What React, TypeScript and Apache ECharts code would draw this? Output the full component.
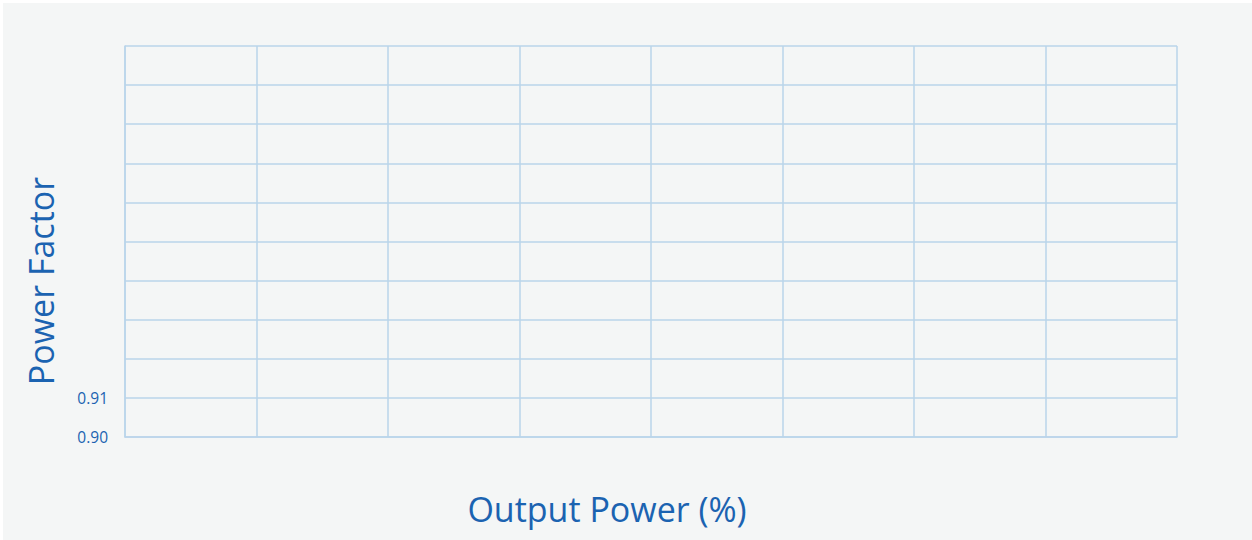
import React, { useEffect, useRef } from "react";
import * as echarts from "echarts";

const xTicks = [0, 12.5, 25, 37.5, 50, 62.5, 75, 87.5, 100];
const yTicks = [0.9, 0.91, 0.92, 0.93, 0.94, 0.95, 0.96, 0.97, 0.98, 0.99, 1.0];
const yShownLabels = ["0.90", "0.91"];
const seriesValues: [number, number][] = [];
const xTitle = "Output Power (%)";
const yTitle = "Power Factor";

const TEXT = "#1b63b1";
const GRID = "#bad4ea";

export default function App() {
  const ref = useRef<HTMLDivElement>(null);
  useEffect(() => {
    document.body.style.margin = "0";
    const chart = echarts.init(ref.current!, null, { renderer: "svg" });
    chart.setOption({
      animation: false,
      backgroundColor: "#f4f6f6",
      textStyle: { fontFamily: "Open Sans" },
      grid: { left: 122, top: 43, width: 1052, height: 391, containLabel: false },
      xAxis: {
        type: "value",
        min: xTicks[0],
        max: xTicks[xTicks.length - 1],
        interval: xTicks[1] - xTicks[0],
        axisLine: { show: true, lineStyle: { color: GRID, width: 1.5 } },
        axisTick: { show: false },
        axisLabel: { show: false },
        splitLine: { show: true, lineStyle: { color: GRID, width: 1.5 } },
      },
      yAxis: {
        type: "value",
        min: yTicks[0],
        max: yTicks[yTicks.length - 1],
        interval: 0.01,
        axisLine: { show: true, lineStyle: { color: GRID, width: 1.5 } },
        axisTick: { show: false },
        axisLabel: {
          show: true,
          color: TEXT,
          fontSize: 15.5,
          margin: 17,
          formatter: (v: number) => {
            const s = v.toFixed(2);
            return yShownLabels.includes(s) ? s : "";
          },
        },
        splitLine: { show: true, lineStyle: { color: GRID, width: 1.5 } },
      },
      graphic: [
        {
          type: "text",
          x: 604,
          y: 506,
          style: {
            text: xTitle,
            fill: TEXT,
            fontSize: 34,
            fontFamily: "Open Sans",
            align: "center",
            verticalAlign: "middle",
          },
        },
        {
          type: "text",
          x: 38,
          y: 278,
          rotation: Math.PI / 2,
          style: {
            text: yTitle,
            fill: TEXT,
            fontSize: 34,
            fontFamily: "Open Sans",
            align: "center",
            verticalAlign: "middle",
          },
        },
      ],
      series: [{ type: "line", data: seriesValues, showSymbol: false }],
    });
    return () => chart.dispose();
  }, []);
  return (
    <div
      ref={ref}
      style={{ position: "fixed", left: 3, top: 3, width: 1249, height: 537 }}
    />
  );
}
